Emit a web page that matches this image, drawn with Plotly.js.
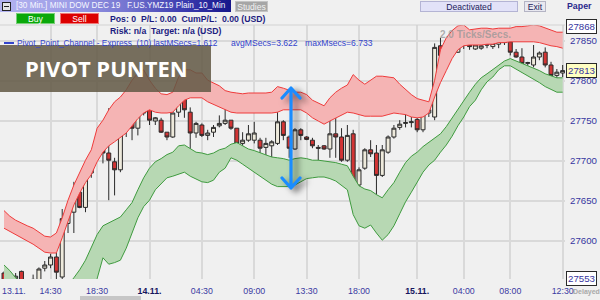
<!DOCTYPE html>
<html><head><meta charset="utf-8">
<script src="https://cdn.plot.ly/plotly-3.0.1.min.js"></script>
<style>
html,body{margin:0;padding:0;background:#f0f0f0;width:600px;height:300px;overflow:hidden;font-family:"Liberation Sans",Arial,sans-serif;}
#chart{position:absolute;left:0;top:0;width:600px;height:300px;z-index:1;}
.hd{position:absolute;white-space:pre;line-height:12px;z-index:3;}
.btn{position:absolute;box-sizing:border-box;text-align:center;line-height:10px;z-index:3;white-space:pre;}
</style></head><body>
<div class="hd" style="left:573px;top:286px;font-size:7px;font-weight:bold;color:#a9a9a9;z-index:0;">Delayed</div>
<div id="chart"></div>
<div class="hd" style="left:440px;top:29px;font-size:10px;font-weight:bold;color:rgba(150,150,150,0.75);z-index:2;">2.0 Ticks/Secs.</div>

<!-- header row 1 -->
<div class="hd" style="left:0;top:0;width:231px;height:12px;background:linear-gradient(to right,#b4b4f0 0%,#9c9ce6 30%,#7474d0 55%,#3a3aae 80%,#16168a 100%);"></div>
<div style="position:absolute;z-index:4;left:2px;top:2px;width:7px;height:7px;border:1px solid #222;background:#e6e6e6;"><div style="position:absolute;left:1px;top:3px;width:5px;height:1px;background:#222"></div></div>
<div class="hd" style="left:16px;top:0;font-size:8.2px;color:#f6f6ff;">[30 Min.] MINI DOW DEC 19   F.US.YMZ19 Plain_10_Min</div>
<div class="btn" style="left:235px;top:1px;width:33px;height:11px;background:#a6a6a6;border:1px solid #c4c4c4;color:#f2f2f2;font-size:8.6px;">Studies</div>
<div class="btn" style="left:420px;top:1px;width:98px;height:11px;background:#e2e2f8;border:1px solid #b4b4d4;color:#1c1c5a;font-size:8.6px;">Deactivated</div>
<div class="btn" style="left:524px;top:1px;width:22px;height:11px;background:#e8e8f0;border:1px solid #b4b4c4;color:#1c1c5a;font-size:8.6px;">Exit</div>
<div class="hd" style="left:567px;top:0;font-size:8.8px;font-weight:bold;color:#2a2a8c;">Paper</div>
<!-- header row 2 -->
<div class="btn" style="left:16px;top:13px;width:39px;height:11px;background:#0aa80a;border:1px solid #78d078;color:#fff;font-size:8.6px;">Buy</div>
<div class="btn" style="left:60px;top:13px;width:39px;height:11px;background:#dc0000;border:1px solid #f07878;color:#fff;font-size:8.6px;">Sell</div>
<div class="hd" style="left:110px;top:13px;font-size:8.7px;font-weight:bold;color:#1c1c80;">Pos: 0  P/L: 0.00  CumP/L:  0.00 (USD)</div>
<!-- header row 3 -->
<div class="hd" style="left:110px;top:25px;font-size:8.7px;font-weight:bold;color:#1c1c80;">Risk: n/a  Target: n/a (USD)</div>
<!-- legend row -->
<div style="position:absolute;z-index:3;left:4px;top:42px;width:10px;height:2px;background:#3344cc;"></div>
<div class="hd" style="left:17px;top:37px;font-size:8.3px;color:#3344cc;">Pivot_Point_Channel - Express  (10) lastMSecs=1.612</div>
<div class="hd" style="left:231px;top:37px;font-size:8.6px;color:#3344cc;">avgMSecs=3.622</div>
<div class="hd" style="left:305px;top:37px;font-size:8.6px;color:#3344cc;">maxMsecs=6.733</div>
<!-- overlay label -->
<div style="position:absolute;z-index:2;left:0;top:45px;width:211px;height:47px;background:rgba(98,88,69,0.86);"></div>
<div style="position:absolute;z-index:3;left:25px;top:56.5px;font-family:'Open Sans',sans-serif;font-weight:bold;font-size:22px;line-height:22px;color:#ffffff;white-space:pre;">PIVOT PUNTEN</div>
<!-- blue double arrow -->
<svg style="position:absolute;z-index:3;left:270px;top:78px;filter:drop-shadow(5px 3px 3px rgba(0,0,0,0.55));" width="50" height="122" viewBox="0 0 50 122">
<path d="M21,10 L21,110 M12,20 L21,10 L30,20 M12,100 L21,110 L30,100" fill="none" stroke="#1a8cff" stroke-width="3.2" stroke-linecap="round" stroke-linejoin="round"/>
</svg>
<!-- scrollbar -->
<div style="position:absolute;z-index:3;left:80px;top:296px;width:61px;height:4px;background:#c6c6c6;"></div>

<script>
// 30-min bars, 13.11. 10:30 to 15.11. 12:30 (index = bar number)
const openP = [27560,27552,27553,27562,27548,27548,27550,27566,27570,27580,
27555,27622,27636,27661,27642,27685,27707,27720,27710,27699,
27689,27744,27749,27741,27760,27772,27750,27751,27736,27730,
27761,27786,27761,27735,27745,27732,27736,27744,27747,27751,
27741,27722,27726,27726,27726,27717,27719,27722,27749,27730,
27715,27739,27730,27726,27717,27719,27715,27734,27730,27701,
27734,27670,27691,27714,27710,27682,27711,27730,27742,27747,
27748,27752,27739,27760,27755,27844,27831,27836,27836,27861,
27845,27840,27841,27846,27843,27846,27848,27849,27836,27830,
27822,27820,27830,27836,27820,27807,27810];
const highP = [27562,27561,27560,27563,27550,27558,27567,27575,27584,27585,
27640,27642,27674,27667,27692,27710,27724,27726,27766,27704,
27745,27764,27764,27766,27770,27774,27755,27754,27736,27761,
27789,27804,27767,27749,27747,27739,27745,27757,27769,27751,
27741,27736,27745,27749,27729,27729,27726,27772,27751,27732,
27741,27741,27731,27729,27720,27720,27757,27760,27741,27745,
27739,27692,27716,27726,27720,27720,27732,27745,27751,27760,
27757,27754,27766,27766,27847,27854,27847,27841,27868,27864,
27847,27847,27845,27849,27850,27856,27851,27850,27840,27841,
27824,27845,27837,27842,27824,27815,27820];
const lowP = [27545,27545,27545,27545,27540,27540,27545,27562,27566,27550,
27545,27610,27610,27641,27636,27679,27705,27697,27651,27657,
27686,27730,27726,27732,27757,27745,27745,27735,27726,27729,
27755,27754,27705,27729,27730,27726,27730,27742,27745,27739,
27720,27697,27724,27722,27704,27705,27695,27720,27726,27704,
27714,27726,27726,27716,27699,27714,27704,27704,27699,27699,
27636,27664,27689,27705,27632,27680,27709,27728,27739,27742,
27742,27736,27736,27755,27751,27830,27829,27830,27835,27840,
27839,27839,27839,27841,27840,27841,27845,27832,27829,27811,
27810,27817,27826,27817,27801,27801,27805];
const closeP = [27550,27554,27556,27550,27545,27552,27565,27570,27580,27561,
27628,27636,27661,27642,27685,27707,27719,27710,27701,27689,
27742,27749,27741,27760,27767,27751,27754,27736,27730,27760,
27786,27764,27735,27747,27732,27735,27742,27747,27751,27741,
27722,27726,27734,27735,27716,27722,27724,27749,27732,27716,
27739,27732,27727,27719,27716,27715,27734,27730,27701,27732,
27670,27689,27714,27709,27682,27714,27730,27741,27746,27748,
27749,27739,27761,27764,27842,27832,27836,27837,27861,27845,
27843,27845,27844,27845,27847,27850,27849,27836,27830,27822,
27823,27830,27835,27820,27807,27811,27813];

// Pivot point channel: upper (red) band and lower (green) band
const redTop = [27638,27631,27626,27622,27619,27616,27611,27606,27605,27610,
27629,27651,27670,27686,27701,27714,27741,27751,27764,27774,
27780,27789,27801,27810,27814,27801,27791,27784,27783,27786,
27805,27814,27814,27810,27810,27801,27797,27794,27788,27786,
27785,27784,27785,27785,27785,27785,27786,27793,27791,27788,
27786,27786,27783,27776,27773,27769,27779,27786,27791,27795,
27808,27801,27796,27801,27806,27806,27805,27804,27796,27789,
27783,27778,27776,27774,27801,27839,27854,27863,27869,27870,
27864,27865,27866,27866,27865,27866,27866,27866,27868,27868,
27869,27870,27869,27866,27864,27861,27861];
const redBot = [27616,27612,27609,27605,27601,27596,27591,27586,27585,27585,
27604,27624,27645,27660,27673,27683,27699,27711,27719,27724,
27730,27735,27744,27753,27760,27764,27761,27760,27760,27761,
27769,27776,27779,27779,27779,27774,27771,27768,27764,27761,
27760,27760,27760,27760,27760,27760,27760,27761,27764,27764,
27764,27764,27760,27754,27750,27746,27750,27754,27758,27761,
27760,27758,27756,27756,27756,27756,27758,27760,27759,27758,
27755,27754,27755,27760,27780,27798,27813,27828,27839,27844,
27845,27845,27845,27846,27846,27848,27848,27849,27849,27849,
27849,27849,27848,27846,27844,27843,27841];
const greenTop = [27570,27563,27554,27546,27540,27535,27530,27526,27524,27526,
27531,27545,27554,27564,27576,27593,27608,27619,27623,27626,
27630,27639,27648,27664,27679,27691,27699,27703,27708,27711,
27719,27720,27716,27711,27710,27708,27710,27714,27716,27721,
27723,27719,27715,27713,27710,27708,27705,27704,27703,27701,
27703,27704,27703,27701,27701,27700,27699,27698,27696,27694,
27681,27669,27665,27663,27658,27654,27664,27673,27686,27698,
27706,27711,27718,27723,27728,27734,27743,27754,27764,27776,
27786,27796,27804,27809,27814,27819,27825,27828,27825,27823,
27819,27816,27813,27809,27806,27804,27804];
const greenBot = [27539,27533,27526,27520,27516,27514,27510,27509,27509,27511,
27516,27524,27529,27534,27539,27545,27553,27579,27571,27573,
27576,27591,27610,27629,27643,27651,27664,27671,27679,27681,
27684,27686,27681,27678,27674,27673,27676,27686,27691,27704,
27701,27696,27691,27686,27681,27676,27671,27668,27668,27668,
27670,27674,27678,27679,27680,27680,27678,27675,27670,27664,
27633,27619,27616,27620,27610,27601,27608,27619,27634,27649,
27661,27674,27686,27695,27701,27711,27720,27731,27744,27755,
27768,27776,27789,27799,27805,27814,27819,27819,27815,27811,
27806,27803,27798,27793,27789,27786,27786];

// time axis ticks (bar index -> label)
const tickIdx = [8,16,25,34,43,52,61,71,79,87,96];
const tickLabels = ['14:30','18:30','<b><span style="color:#16165e">14.11.</span></b>','04:30','09:00','13:30','18:00','<b><span style="color:#16165e">15.11.</span></b>','04:00','08:00','12:30'];
const firstDayLabel = '13.11.';
const priceTicks = [27600,27650,27700,27750,27800,27850];
const priceTickText = ['27600','27650','27700','27750','27800','27850'];
const rangeHigh = 27868, rangeLow = 27553, lastPrice = 27813;

const idx = openP.map((_, i) => i);
const band = (y, col, fill, fc) => ({type:'scatter', mode:'lines', x:idx, y:y,
  line:{color:col, width:1}, fill:fill, fillcolor:fc, hoverinfo:'skip', showlegend:false});

const traces = [
  band(redTop, '#ef3b3b', 'none'),
  band(redBot, '#ef3b3b', 'tonexty', '#f5b4b4'),
  band(greenTop, '#3f9b3f', 'none'),
  band(greenBot, '#3f9b3f', 'tonexty', '#b7d8b3'),
  {type:'candlestick', x:idx, open:openP, high:highP, low:lowP, close:closeP,
   increasing:{line:{color:'#2a2a2a', width:1}, fillcolor:'#eeeadc'},
   decreasing:{line:{color:'#2a2a2a', width:1}, fillcolor:'#d23434'},
   whiskerwidth:0, hoverinfo:'skip', showlegend:false}
];

const tickFont = {family:'Liberation Sans, Arial, sans-serif', size:8.8, color:'#3a3aa2'};
const priceFont = {family:'Liberation Sans, Arial, sans-serif', size:9.7, color:'#3636a0'};
const boxAnn = (v, bg) => ({xref:'paper', x:1, xanchor:'left', xshift:1, yref:'y', y:v,
  text:String(v), showarrow:false, font:priceFont, bgcolor:bg, bordercolor:'#2a2a2a', borderwidth:1, borderpad:1});

const layout = {
  width:600, height:300,
  margin:{l:0, r:35, t:25, b:21, pad:0},
  paper_bgcolor:'rgba(0,0,0,0)', plot_bgcolor:'rgba(0,0,0,0)',
  showlegend:false,
  boxgap:0.2, boxgroupgap:0.15,
  xaxis:{range:[-0.69, 96.4], tickmode:'array', tickvals:tickIdx, ticktext:tickLabels,
    showgrid:true, gridcolor:'#d9d9d9', gridwidth:2, zeroline:false, showline:false,
    ticks:'', ticklabelstandoff:5, tickfont:tickFont, rangeslider:{visible:false},
    automargin:false, fixedrange:true},
  yaxis:{range:[27552.5, 27870], side:'right', tickmode:'array', tickvals:priceTicks, ticktext:priceTickText,
    showgrid:true, gridcolor:'#d9d9d9', gridwidth:2, zeroline:false, showline:false,
    ticks:'', ticklabelstandoff:4, tickfont:priceFont, automargin:false, fixedrange:true},
  shapes:[{type:'line', xref:'paper', yref:'paper', x0:0, x1:1, y0:1, y1:1, line:{color:'#d2d2d2', width:1}}],
  annotations:[
    {xref:'x', x:1.8, yref:'paper', y:0, yanchor:'top', yshift:-5, text:firstDayLabel, showarrow:false, font:tickFont},
    boxAnn(rangeHigh, '#ffffff'),
    boxAnn(lastPrice, '#ffffc2'),
    boxAnn(rangeLow, '#ffffff')
  ]
};

Plotly.newPlot('chart', traces, layout, {staticPlot:true, displayModeBar:false});
</script>
</body></html>
